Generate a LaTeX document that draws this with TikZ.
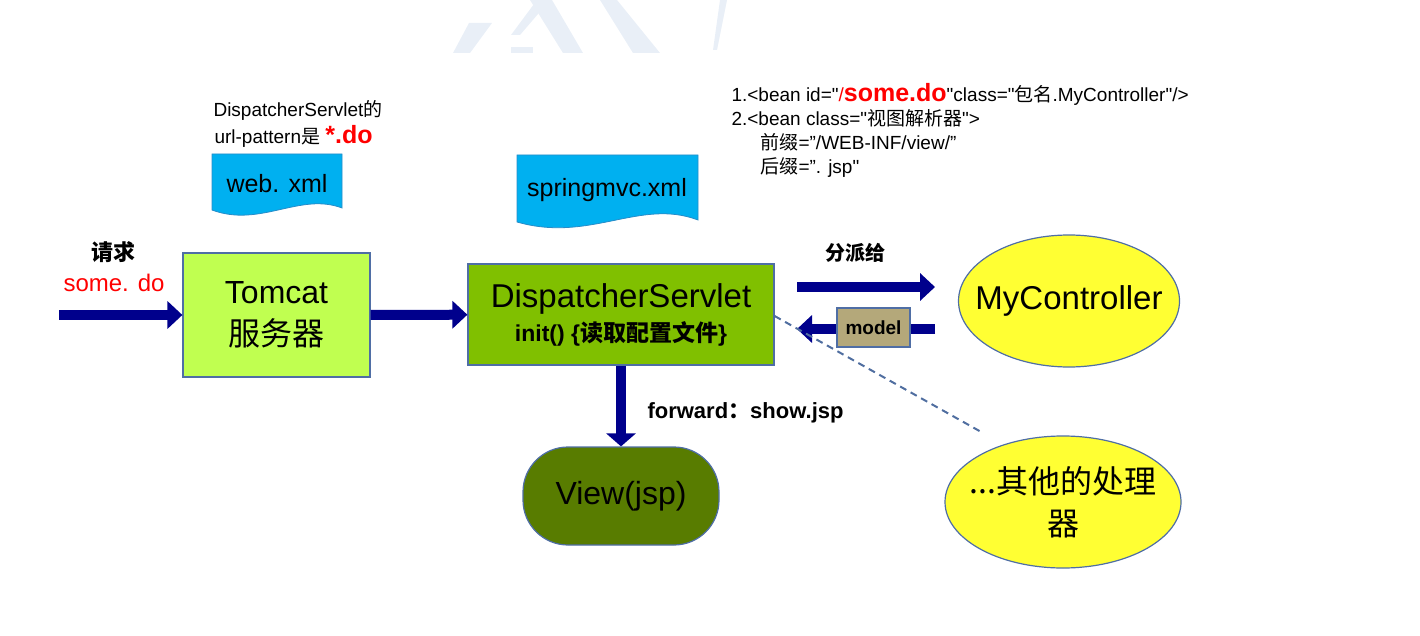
\documentclass[tikz,border=0pt]{standalone}
\usepackage{fontspec}
\setmainfont{Liberation Sans}[Ligatures=TeXOff]
\newfontfamily\cjk{Noto Sans CJK SC}
\usetikzlibrary{arrows.meta, positioning, shapes.geometric}

\definecolor{flowblue}{RGB}{0,0,140}
\definecolor{edge}{RGB}{79,110,165}
\definecolor{tomcatgreen}{RGB}{192,255,80}
\definecolor{servletgreen}{RGB}{128,192,0}
\definecolor{viewgreen}{RGB}{88,124,0}
\definecolor{lemon}{RGB}{255,255,51}
\definecolor{khaki}{RGB}{180,168,122}
\definecolor{xmlcyan}{RGB}{0,176,240}
\definecolor{wmark}{RGB}{233,239,247}
\definecolor{dashblue}{RGB}{80,110,160}

\begin{document}
\begin{tikzpicture}[x=1pt,y=-1pt]
            \tikzstyle{box}  = [rectangle, draw=edge, line width=1.2pt, inner sep=0pt]
            \tikzstyle{oval} = [ellipse, draw=edge, fill=lemon, line width=1.2pt, inner ysep=0pt, inner xsep=-25pt]
            \tikzstyle{flow} = [flowblue, line width=10pt, -{Triangle[width=27pt,length=15pt]}]
            \tikzstyle{doc}  = [fill=xmlcyan, draw={rgb,255:red,40;green,140;blue,200}, line width=0.8pt]
            \tikzstyle{big}  = [font=\fontsize{32}{42}\selectfont]
            \tikzstyle{small} = [font=\fontsize{19}{24}\selectfont]

            \useasboundingbox (0,0) rectangle (1420,636);

            % Watermark ...............................
            \fill[wmark] (453,53) -- (470,53) -- (492,23) -- (469,23) -- cycle;
            \fill[wmark] (511,47) rectangle (533,53);
            \fill[wmark] (511,35) -- (520,35) -- (550,0) -- (537,0) -- cycle;
            \fill[wmark] (530,0) -- (552,0) -- (583,53) -- (563,53) -- cycle;
            \fill[wmark] (600,0) -- (617,0) -- (660,53) -- (633,53) -- cycle;
            \fill[wmark] (713,50) -- (717,50) -- (727,0) -- (720,0) -- cycle;

            % Config files ............................
            \draw[doc] (212,154) -- (342,154) -- (342,208)
                .. controls (300,192) and (260,228) .. (212,210) -- cycle;
            \node[font=\fontsize{25}{30}\selectfont] (webxml) at (277,184) {web. xml};
            \draw[doc] (517,155) -- (698,155) -- (698,220)
                .. controls (640,198) and (590,243) .. (517,222) -- cycle;
            \node[font=\fontsize{25}{30}\selectfont] (mvcxml) at (607,190) {springmvc.xml};

            \node[small, anchor=base west] (pattern1) at (210,117) {DispatcherServlet{\cjk 的}};
            \node[small, anchor=base west] (pattern2) at (211,144) {url-pattern{\cjk 是} {\color{red}\bfseries\fontsize{25}{28}\selectfont *.do}};

            \node[small, anchor=base west] (bean1) at (728,102) {1.<bean id="{\color{red}/\bfseries\fontsize{25}{28}\selectfont some.do}"class="{\cjk 包名}.MyController"/>};
            \node[small, anchor=base west] (bean2) at (728,126) {2.<bean class="{\cjk 视图解析器}">};
            \node[small, anchor=base west] (bean3) at (757,150) {{\cjk 前缀}=”/WEB-INF/view/”};
            \node[small, anchor=base west] (bean4) at (757,174) {{\cjk 后缀}=”. jsp"};

            % Main flow ...............................
            \node[box, big, fill=tomcatgreen, minimum width=187pt, minimum height=124pt, align=center] (tomcat) at (276.5,315) {Tomcat\\{\cjk 服务器}};
            \node[box, fill=servletgreen, minimum width=306pt, minimum height=101pt, align=center, font=\fontsize{33}{34}\selectfont] (servlet) at (621,314.5)
                {DispatcherServlet\\{\fontsize{23}{34}\selectfont\bfseries init() \{{\cjk 读取配置文件}\}}};
            \node[box, big, fill=viewgreen, rounded corners=45pt, minimum width=196pt, minimum height=98pt] (view) at (621,496) {View(jsp)};
            \node[oval, font=\fontsize{33}{40}\selectfont, minimum width=221pt, minimum height=132pt] (ctrl) at (1069,301) {MyController};
            \node[oval, big, minimum width=236pt, minimum height=132pt, align=center] (others) at (1063,502) {{\cjk ...其他的处理}\\{\cjk 器}};

            \coordinate (req) at (59,315);
            \coordinate (sendA) at (797,287);
            \coordinate (sendB) at (935,287);
            \coordinate (backA) at (935,329);
            \coordinate (backB) at (797,329);
            \coordinate (dashend) at (983,433);

            \draw[flow] (req) -- (tomcat);
            \draw[flow] (tomcat) -- (servlet);
            \draw[flow, -{Triangle[width=29pt,length=13pt]}] (servlet.south) -- (view.north);
            \draw[flow] (sendA) -- (sendB);
            \draw[flow] (backA) -- (backB);
            \draw[dashblue, line width=2pt, dash pattern=on 7pt off 5pt] (servlet.east |- 0,316) -- (dashend);

            \node[box, fill=khaki, minimum width=73pt, minimum height=39pt, font=\fontsize{19}{22}\selectfont\bfseries] (model) at (873.5,327.5) {model};

            % Labels ..................................
            \node[font=\cjk\bfseries\fontsize{22}{26}\selectfont] (reqlabel) at (113,252) {请求};
            \node[font=\fontsize{24}{28}\selectfont, text=red] (requrl) at (114,283) {some. do};
            \node[font=\cjk\bfseries\fontsize{20}{24}\selectfont] (dispatch) at (855,253) {分派给};
            \node[font=\bfseries\fontsize{22}{26}\selectfont, anchor=west] (fwd) at (644,413) {forward{\cjk ：}show.jsp};

        \end{tikzpicture}
\end{document}
